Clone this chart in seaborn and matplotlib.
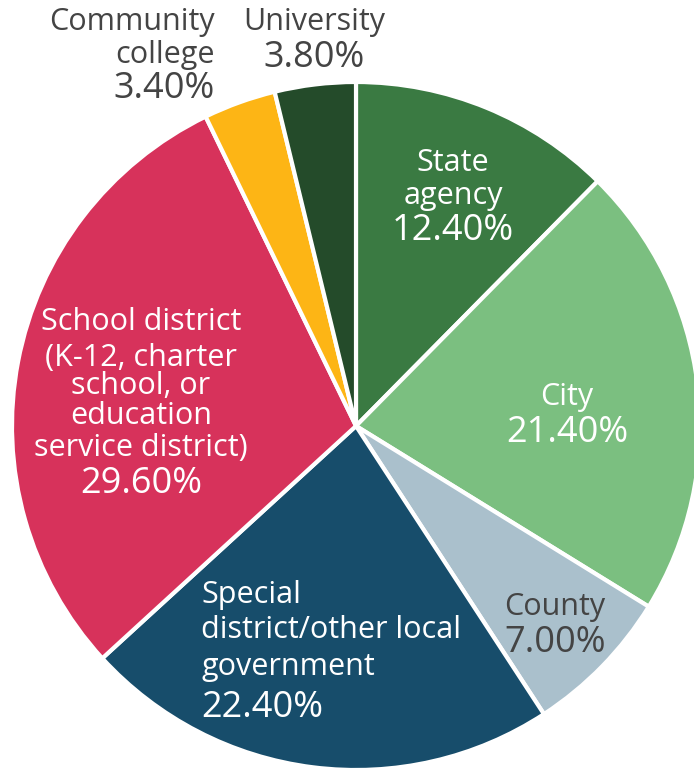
import matplotlib
matplotlib.use("Agg")
import matplotlib.pyplot as plt
import seaborn as sns

# Share of respondents by organization type (percent)
categories = [
    "State agency",
    "City",
    "County",
    "Special district/other local government",
    "School district (K-12, charter school, or education service district)",
    "Community college",
    "University",
]
# line breaks used for the slice labels
label_lines = [
    ["State", "agency"],
    ["City"],
    ["County"],
    ["Special", "district/other local", "government"],
    ["School district", "(K-12, charter", "school, or", "education", "service district)"],
    ["Community", "college"],
    ["University"],
]
shares = [12.4, 21.4, 7.0, 22.4, 29.6, 3.4, 3.8]
colors = ["#3a7a42", "#7bbf80", "#aac0cc", "#174d6b", "#d7325b", "#fdb515", "#244b2a"]

sns.set_theme(style="white")
plt.rcParams["font.family"] = ["Open Sans", "DejaVu Sans"]

W, H = 694, 771
fig = plt.figure(figsize=(W / 100, H / 100), dpi=100)
fig.patch.set_facecolor("white")

# pie centre and radius in pixels
cx, cy, r = 356, 426, 344
ax = fig.add_axes([(cx - r) / W, (H - cy - r) / H, 2 * r / W, 2 * r / H])

ax.pie(
    shares,
    colors=colors,
    startangle=90,
    counterclock=False,
    radius=1,
    wedgeprops=dict(edgecolor="white", linewidth=3),
)
ax.set_xlim(-1, 1)
ax.set_ylim(-1, 1)
ax.set_aspect("equal")
ax.axis("off")

white = "white"
gray = "#444444"
# text anchor x (px), alignment, colour, baselines (px) of each line incl. the value line
label_layout = [
    (453, "center", white, [171, 204, 240]),
    (567, "center", white, [405, 442]),
    (555, "center", gray, [615, 652]),
    (201, "left", white, [603, 638, 675, 717]),
    (141, "center", white, [330, 366, 394, 424, 456, 493]),
    (215, "right", gray, [30, 63, 98]),
    (314, "center", gray, [30, 67]),
]

name_size = 22
pct_size = 26

def to_data(px, py):
    return (px - cx) / r, (cy - py) / r

for lines, val, (px, ha, col, baselines) in zip(label_lines, shares, label_layout):
    for text, by in zip(lines, baselines[:-1]):
        x, y = to_data(px, by)
        ax.text(x, y, text, ha=ha, va="baseline", fontsize=name_size, color=col,
                clip_on=False)
    x, y = to_data(px, baselines[-1])
    ax.text(x, y, f"{val:.2f}%", ha=ha, va="baseline", fontsize=pct_size, color=col,
            clip_on=False)

fig.savefig("out.png", dpi=100, facecolor="white")
